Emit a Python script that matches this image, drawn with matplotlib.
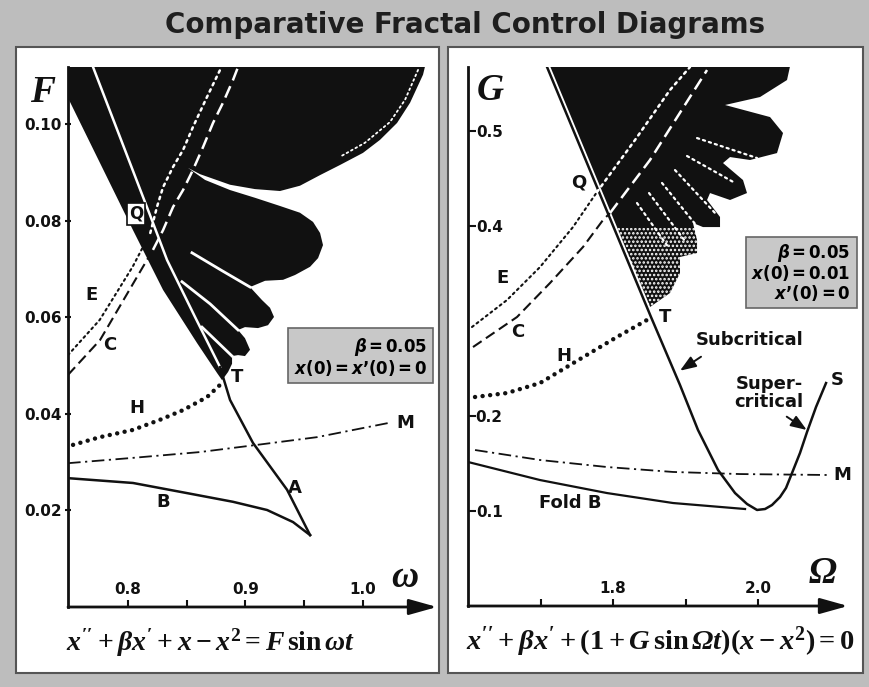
import matplotlib.pyplot as plt
from matplotlib.patches import Rectangle

plt.rcParams['font.family'] = 'DejaVu Sans'
plt.rcParams['font.weight'] = 'bold'
plt.rcParams['mathtext.fontset'] = 'custom'
plt.rcParams['mathtext.rm'] = 'Liberation Serif:bold'
plt.rcParams['mathtext.it'] = 'Liberation Serif:italic:bold'
plt.rcParams['mathtext.cal'] = 'Liberation Serif:italic:bold'   # italic capital Greek
plt.rcParams['mathtext.bf'] = 'DejaVu Sans:bold'
plt.rcParams['mathtext.sf'] = 'DejaVu Sans:italic:bold'
plt.rcParams['hatch.color'] = 'white'
plt.rcParams['hatch.linewidth'] = 1.2

# ---------------- left diagram: x'' + bx' + x - x^2 = F sin wt ----------------
w_ticks = [0.8, 0.9, 1.0]
w_minor = [0.85, 0.95]
F_ticks = [0.02, 0.04, 0.06, 0.08, 0.10]
F_labels = ['0.02', '0.04', '0.06', '0.08', '0.10']

# boundary A (white inside the black basin, black below T)
w_A = [0.7703, 0.8188, 0.8333, 0.8571, 0.8784, 0.8869, 0.9064, 0.9354, 0.9550]
F_A = [0.1119, 0.0812, 0.0719, 0.0601, 0.0497, 0.0429, 0.0340, 0.0243, 0.0149]
# fold B
w_B = [0.749, 0.8043, 0.8503, 0.8894, 0.9184, 0.9405, 0.9550]
F_B = [0.0267, 0.0257, 0.0236, 0.0218, 0.0201, 0.0176, 0.0149]
# Melnikov M
w_M = [0.749, 0.804, 0.861, 0.910, 0.961, 1.021]
F_M = [0.0298, 0.0309, 0.0321, 0.0336, 0.0352, 0.0381]
# H
w_H = [0.7533, 0.7762, 0.8043, 0.8273, 0.8469, 0.8673, 0.8809]
F_H = [0.0336, 0.0352, 0.0367, 0.0388, 0.0408, 0.0435, 0.0466]
# E (black up to index 3, white after)
w_E = [0.749, 0.776, 0.804, 0.819, 0.8247, 0.8299, 0.8384, 0.8469, 0.8554, 0.8673, 0.8784]
F_E = [0.0522, 0.0595, 0.0705, 0.0775, 0.0829, 0.0870, 0.0912, 0.0947, 0.0995, 0.1057, 0.1113]
# C (black up to index 3, white after)
w_C = [0.749, 0.7762, 0.8128, 0.8213, 0.8299, 0.8384, 0.8469, 0.8554, 0.8639, 0.8724,
       0.8809, 0.8894, 0.8937]
F_C = [0.0481, 0.0553, 0.0705, 0.0740, 0.0781, 0.0829, 0.0864, 0.0906, 0.0953, 0.1003,
       0.1045, 0.1092, 0.1119]

# outline of the black escape region with its fingers
basin_w = [0.749, 1.0528, 1.0511, 1.0401, 1.0290, 1.0145, 1.0000, 0.9805, 0.9635, 0.9464,
           0.9294, 0.9081, 0.8869, 0.8613, 0.8511, 0.8656, 0.8869, 0.9081, 0.9294, 0.9464,
           0.9575, 0.9635, 0.9660, 0.9618, 0.9550, 0.9422, 0.9320, 0.9167, 0.9039, 0.9141,
           0.9209, 0.9243, 0.9192, 0.9107, 0.8996, 0.8937, 0.8996, 0.9039, 0.8996, 0.8937,
           0.8886, 0.8886, 0.8852, 0.8801, 0.8758, 0.8588, 0.8299, 0.8043, 0.749]
basin_F = [0.1120, 0.1120, 0.1103, 0.1045, 0.1003, 0.0968, 0.0941, 0.0916, 0.0895, 0.0873,
           0.0862, 0.0866, 0.0875, 0.0897, 0.0910, 0.0885, 0.0864, 0.0848, 0.0831, 0.0817,
           0.0798, 0.0775, 0.0750, 0.0723, 0.0705, 0.0688, 0.0678, 0.0676, 0.0663, 0.0636,
           0.0620, 0.0601, 0.0584, 0.0578, 0.0580, 0.0574, 0.0557, 0.0533, 0.0520, 0.0522,
           0.0520, 0.0504, 0.0487, 0.0470, 0.0485, 0.0547, 0.0657, 0.0781, 0.1055]
# thin white gaps between fingers, and the rim
gaps_w = [[0.8545, 0.8800, 0.9039], [0.8460, 0.8700, 0.8937], [0.8630, 0.8886]]
gaps_F = [[0.0734, 0.0697, 0.0663], [0.0674, 0.0628, 0.0574], [0.0580, 0.0520]]
rim_w = [1.0469, 1.0358, 1.0230, 1.0017, 0.9805]
rim_F = [0.1113, 0.1051, 0.1005, 0.0962, 0.0933]

labels_L = ['E', 'C', 'H', 'T', 'A', 'B', 'M']
labels_L_w = [0.7694, 0.7847, 0.8077, 0.8928, 0.9422, 0.8299, 1.0358]
labels_L_F = [0.0647, 0.0543, 0.0412, 0.0477, 0.0247, 0.0218, 0.0381]
Q_L = (0.8069, 0.0815)

# ---------------- right diagram: x'' + bx' + (1 + G sin Wt)(x - x^2) = 0 ----------------
W_ticks = [1.8, 2.0]
W_minor = [1.7, 1.9]
G_ticks = [0.1, 0.2, 0.4, 0.5]
G_labels = ['0.1', '0.2', '0.4', '0.5']

W_V = [1.7090, 1.7807, 1.8524, 1.8924, 1.9172, 1.9448, 1.9683, 1.9848, 1.9986, 2.0097,
       2.0193, 2.0303, 2.0386, 2.0469, 2.0579, 2.0676, 2.0800, 2.0938]
G_V = [0.5674, 0.4358, 0.3042, 0.2326, 0.1853, 0.1432, 0.1189, 0.1074, 0.1011, 0.1021,
       0.1063, 0.1147, 0.1242, 0.1400, 0.1611, 0.1832, 0.2095, 0.2347]
W_fold = [1.60, 1.6993, 1.7917, 1.8828, 1.9821]
G_fold = [0.1516, 0.1326, 0.1189, 0.1084, 0.1021]
W_M = [1.6097, 1.6993, 1.7917, 1.8828, 1.9752, 2.0966]
G_M = [0.1642, 0.1537, 0.1463, 0.1411, 0.1389, 0.1379]
W_H = [1.6097, 1.6538, 1.6993, 1.7683, 1.8055, 1.8469]
G_H = [0.2200, 0.2242, 0.2347, 0.2663, 0.2832, 0.3011]
W_E = [1.6055, 1.6538, 1.6993, 1.7448, 1.7779, 1.8303, 1.8786, 1.9062]
G_E = [0.2937, 0.3221, 0.3568, 0.3989, 0.4358, 0.4905, 0.5432, 0.5674]
W_C = [1.6069, 1.6676, 1.7131, 1.7586, 1.7862, 1.7959, 1.8510, 1.9297]
G_C = [0.2726, 0.3042, 0.3400, 0.3779, 0.4063, 0.4137, 0.4695, 0.5642]

basin_W = [1.7090, 2.0441, 2.0400, 2.0028, 1.9545, 2.0166, 2.0345, 2.0262, 1.9890,
           1.9614, 1.9517, 1.9793, 1.9848, 1.9614, 1.9338, 1.9297, 1.9476, 1.9476, 1.9241,
           1.9103, 1.9159, 1.9159, 1.8924, 1.8924, 1.8786, 1.8648, 1.8510, 1.8469, 1.7807]
basin_G = [0.5680, 0.5680, 0.5537, 0.5358, 0.5274, 0.5147, 0.4979, 0.4768, 0.4695,
           0.4726, 0.4663, 0.4484, 0.4347, 0.4274, 0.4347, 0.4274, 0.4095, 0.3989, 0.3989,
           0.4032, 0.3853, 0.3716, 0.3674, 0.3505, 0.3295, 0.3221, 0.3147, 0.3147, 0.4358]
# stippled lower part of the basin
stip_W = [1.8014, 1.9200, 1.9159, 1.9159, 1.8924, 1.8924, 1.8786, 1.8648, 1.8510, 1.8469]
stip_G = [0.3979, 0.3979, 0.3853, 0.3716, 0.3674, 0.3505, 0.3295, 0.3221, 0.3147, 0.3147]
# white streaks between the fingers
streak_W0 = [1.8331, 1.8497, 1.8676, 1.8855, 1.9021, 1.9159]
streak_G0 = [0.4242, 0.4347, 0.4453, 0.4589, 0.4737, 0.4926]
streak_W1 = [1.8772, 1.8993, 1.9200, 1.9407, 1.9683, 1.9986]
streak_G1 = [0.3768, 0.3842, 0.3958, 0.4137, 0.4453, 0.4716]

labels_R = ['Q', 'E', 'C', 'H', 'T', 'S', 'M', 'Fold B', 'Subcritical', 'Super-\ncritical']
labels_R_W = [1.7531, 1.6469, 1.6690, 1.7324, 1.8717, 2.1090, 2.1159, 1.7407, 1.9890, 2.0152]
labels_R_G = [0.4453, 0.3453, 0.2884, 0.2632, 0.3042, 0.2379, 0.1379, 0.1084, 0.2800, 0.2242]
sub_arrow = [(1.9214, 0.2624), (1.8924, 0.2477)]
super_arrow = [(2.0396, 0.1993), (2.0672, 0.1853)]

# ---------------- figure ----------------
W, H = 869, 687
BG = '#bdbdbd'
INK = '#111111'
fig = plt.figure(figsize=(W / 100, H / 100), dpi=100, facecolor=BG)


def box(x0, y0, x1, y1):
    return [x0 / W, 1 - y1 / H, (x1 - x0) / W, (y1 - y0) / H]


for x0, x1 in [(16, 439), (448, 863)]:
    fig.add_artist(Rectangle((x0 / W, 1 - 673 / H), (x1 - x0) / W, (673 - 47) / H,
                             transform=fig.transFigure, facecolor='white',
                             edgecolor='#555555', lw=1.5, zorder=-5))

fig.text(465 / W, 1 - 25 / H, 'Comparative Fractal Control Diagrams', ha='center',
         va='center', fontsize=20, fontweight='bold', color='#1e1e1e')

axL = fig.add_axes(box(68, 67, 437, 607))
axR = fig.add_axes(box(468, 67, 848, 606))
axL.set_xlim(0.749, 1.063)
axL.set_ylim(0, 0.1119)
axR.set_xlim(1.60, 2.1241)
axR.set_ylim(0, 0.5674)

for ax in (axL, axR):
    ax.set_facecolor('none')
    for s in ('top', 'right', 'bottom'):
        ax.spines[s].set_visible(False)
    ax.spines['left'].set_linewidth(2)
    ax.spines['left'].set_color(INK)
    ax.annotate('', xy=(1, 0), xytext=(0, 0), xycoords='axes fraction',
                textcoords='axes fraction', annotation_clip=False,
                arrowprops=dict(arrowstyle='-|>,head_length=1.0,head_width=0.28',
                                color=INK, lw=2, shrinkA=0, shrinkB=0, mutation_scale=17))
    ax.tick_params(axis='x', which='both', direction='in', length=5, width=1.5,
                   pad=-18, labelsize=11, colors=INK)

axL.set_xticks(w_ticks, ['0.8', '0.9', '1.0'])
axL.set_xticks(w_minor, minor=True)
axL.set_yticks(F_ticks, F_labels)
axL.tick_params(axis='y', direction='inout', length=5, width=1.5, pad=2, labelsize=11,
                colors=INK)
axR.set_xticks(W_ticks, ['1.8', '2.0'])
axR.set_xticks(W_minor, minor=True)
axR.set_yticks(G_ticks, G_labels)
axR.tick_params(axis='y', direction='in', length=6, width=1.5, pad=-25, labelsize=11,
                colors=INK)

dot = dict(dashes=(1, 1.8), dash_capstyle='round')
dash = dict(dashes=(5, 2.5))
bigdot = dict(dashes=(0.01, 1.7), dash_capstyle='round')
dashdot = dict(dashes=(7, 2.5, 1.2, 2.5))

# left: basin and curves
axL.fill(basin_w, basin_F, color=INK, lw=0, zorder=1)
for gw, gF in zip(gaps_w, gaps_F):
    axL.plot(gw, gF, color='white', lw=2, zorder=2)
axL.plot(rim_w, rim_F, color='white', lw=1.3, zorder=2, **dot)
axL.plot(w_A[:5], F_A[:5], color='white', lw=1.8, zorder=3)
axL.plot(w_A[4:], F_A[4:], color=INK, lw=1.8, zorder=3)
axL.plot(w_B, F_B, color=INK, lw=1.8, zorder=3)
axL.plot(w_M, F_M, color=INK, lw=1.3, zorder=3, **dashdot)
axL.plot(w_H, F_H, color=INK, lw=3.2, zorder=3, **bigdot)
axL.plot(w_E[:4], F_E[:4], color=INK, lw=1.5, zorder=3, **dot)
axL.plot(w_E[3:], F_E[3:], color='white', lw=1.8, zorder=3, **dot)
axL.plot(w_C[:4], F_C[:4], color=INK, lw=1.5, zorder=3, **dash)
axL.plot(w_C[3:], F_C[3:], color='white', lw=1.8, zorder=3, **dash)

for t, x, y in zip(labels_L, labels_L_w, labels_L_F):
    axL.text(x, y, t, ha='center', va='center', fontsize=13, color=INK, zorder=5)
axL.text(*Q_L, 'Q', ha='center', va='center', fontsize=12, color=INK, zorder=5,
         bbox=dict(boxstyle='square,pad=0.12', fc='white', ec=INK, lw=1.2))

# right: basin and curves
axR.fill(basin_W, basin_G, color=INK, lw=0, zorder=1)
axR.fill(stip_W, stip_G, facecolor='none', edgecolor='white', hatch='....', lw=0, zorder=1.5)
for a, b, c, d in zip(streak_W0, streak_G0, streak_W1, streak_G1):
    axR.plot([a, c], [b, d], color='white', lw=1.6, zorder=2, **dot)
axR.plot(W_V[:3], G_V[:3], color='white', lw=4.5, zorder=2.5)
axR.plot(W_V, G_V, color=INK, lw=1.8, zorder=3)
axR.plot(W_fold, G_fold, color=INK, lw=1.6, zorder=3)
axR.plot(W_M, G_M, color=INK, lw=1.3, zorder=3, **dashdot)
axR.plot(W_H, G_H, color=INK, lw=3.2, zorder=3, **bigdot)
axR.plot(W_E[:5], G_E[:5], color=INK, lw=1.5, zorder=3, **dot)
axR.plot(W_E[4:], G_E[4:], color='white', lw=1.8, zorder=3, **dot)
axR.plot(W_C[:6], G_C[:6], color=INK, lw=1.5, zorder=3, **dash)
axR.plot(W_C[5:], G_C[5:], color='white', lw=1.8, zorder=3, **dash)

for t, x, y in zip(labels_R, labels_R_W, labels_R_G):
    axR.text(x, y, t, ha='center', va='center', fontsize=13, color=INK, zorder=5,
             linespacing=1.0)
for tail, head in (sub_arrow, super_arrow):
    axR.annotate('', xy=head, xytext=tail,
                 arrowprops=dict(arrowstyle='-|>,head_length=0.8,head_width=0.3',
                                 color=INK, lw=1.4, shrinkA=0, shrinkB=0,
                                 mutation_scale=12))

# axis names and equations
fig.text(43 / W, 1 - 92 / H, r'$F$', ha='center', va='center', fontsize=27, color=INK)
fig.text(490 / W, 1 - 90 / H, r'$G$', ha='center', va='center', fontsize=27, color=INK)
fig.text(405 / W, 1 - 577 / H, r'$\omega$', ha='center', va='center', fontsize=27, color=INK)
fig.text(823 / W, 1 - 573 / H, r'$\mathcal{\Omega}$', ha='center', va='center', fontsize=27,
         color=INK)
fig.text(211 / W, 1 - 643 / H, r"$x'' + \beta x' + x - x^2 = F\,\mathrm{sin}\,\omega t$",
         ha='center', va='center', fontsize=20, color=INK)
fig.text(660 / W, 1 - 642 / H,
         r"$x'' + \beta x' + (1 + G\,\mathrm{sin}\,\mathcal{\Omega} t)(x - x^2) = 0$",
         ha='center', va='center', fontsize=20.5, color=INK)

# parameter boxes
for x0, y0, x1, y1 in [(288, 328, 433, 383), (746, 237, 857, 308)]:
    fig.add_artist(Rectangle((x0 / W, 1 - y1 / H), (x1 - x0) / W, (y1 - y0) / H,
                             transform=fig.transFigure, facecolor='#c8c8c8',
                             edgecolor='#666666', lw=1.2, zorder=4))
beta_txt = r'$\mathsf{\beta}\mathbf{{=}0.05}$'
fig.text(427 / W, 1 - 347 / H, beta_txt, ha='right', va='center', fontsize=12, zorder=6)
fig.text(427 / W, 1 - 368 / H, r'$\mathsf{x}\mathbf{(0){=}}\mathsf{x}\mathbf{’(0){=}0}$',
         ha='right', va='center', fontsize=12, zorder=6)
fig.text(850 / W, 1 - 253 / H, beta_txt, ha='right', va='center', fontsize=12, zorder=6)
fig.text(850 / W, 1 - 273 / H, r'$\mathsf{x}\mathbf{(0){=}0.01}$', ha='right', va='center',
         fontsize=12, zorder=6)
fig.text(850 / W, 1 - 293 / H, r'$\mathsf{x}\mathbf{’(0){=}0}$', ha='right', va='center',
         fontsize=12, zorder=6)

fig.savefig('out.png', dpi=100, facecolor=BG)
